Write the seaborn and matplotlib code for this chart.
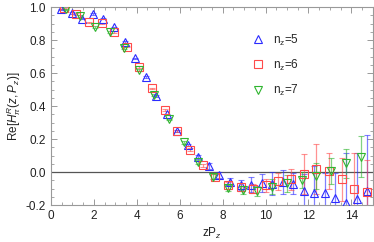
import numpy as np
import pandas as pd
import matplotlib
matplotlib.use("Agg")
import matplotlib.pyplot as plt
import seaborn as sns

# n_z = 5
x5 = [0.49, 0.98, 1.47, 1.96, 2.45, 2.95, 3.44, 3.93, 4.42, 4.91, 5.40, 5.89, 6.38, 6.87, 7.36,
      7.85, 8.35, 8.84, 9.33, 9.82, 10.31, 10.80, 11.29, 11.78, 12.27, 12.76, 13.25, 13.75, 14.24, 14.73]
y5 = [0.986, 0.962, 0.930, 0.956, 0.930, 0.877, 0.790, 0.689, 0.578, 0.462, 0.350, 0.248, 0.164, 0.091, 0.036,
      -0.016, -0.059, -0.075, -0.075, -0.063, -0.070, -0.059, -0.070, -0.113, -0.125, -0.125, -0.156, -0.184, -0.164, -0.113]
e5 = [0.005, 0.005, 0.005, 0.005, 0.005, 0.005, 0.005, 0.005, 0.005, 0.005, 0.005, 0.006, 0.008, 0.012, 0.018,
      0.02, 0.025, 0.03, 0.045, 0.055, 0.07, 0.075, 0.065, 0.10, 0.16, 0.12, 0.15, 0.30, 0.28, 0.34]

# n_z = 6
x6 = [0.59, 1.18, 1.77, 2.36, 2.95, 3.53, 4.12, 4.71, 5.30, 5.89, 6.48, 7.07, 7.66, 8.25, 8.84,
      9.42, 10.01, 10.60, 11.19, 11.78, 12.37, 12.96, 13.55, 14.14, 14.73]
y6 = [0.992, 0.956, 0.907, 0.901, 0.850, 0.760, 0.638, 0.507, 0.376, 0.248, 0.137, 0.042, -0.028, -0.079, -0.089,
      -0.099, -0.079, -0.055, -0.044, -0.012, 0.018, 0.008, -0.044, -0.103, -0.119]
e6 = [0.005, 0.005, 0.005, 0.005, 0.005, 0.005, 0.005, 0.005, 0.005, 0.005, 0.008, 0.01, 0.015, 0.02, 0.025,
      0.03, 0.04, 0.05, 0.066, 0.12, 0.15, 0.11, 0.13, 0.22, 0.19]

# n_z = 7
x7 = [0.69, 1.37, 2.06, 2.75, 3.43, 4.12, 4.81, 5.50, 6.18, 6.87, 7.56, 8.24, 8.93, 9.62, 10.31,
      11.00, 11.68, 12.37, 13.06, 13.74, 14.43]
y7 = [0.986, 0.947, 0.880, 0.847, 0.753, 0.618, 0.467, 0.320, 0.180, 0.062, -0.028, -0.095, -0.109, -0.113, -0.089,
      -0.068, -0.048, -0.024, 0.008, 0.053, 0.093]
e7 = [0.005, 0.005, 0.005, 0.005, 0.005, 0.005, 0.005, 0.005, 0.008, 0.012, 0.015, 0.02, 0.025, 0.03, 0.045,
      0.05, 0.05, 0.08, 0.08, 0.09, 0.125]

labels = ["n$_\\mathregular{z}$=5", "n$_\\mathregular{z}$=6", "n$_\\mathregular{z}$=7"]

df = pd.concat([
    pd.DataFrame({"x": x5, "y": y5, "err": e5, "set": labels[0]}),
    pd.DataFrame({"x": x6, "y": y6, "err": e6, "set": labels[1]}),
    pd.DataFrame({"x": x7, "y": y7, "err": e7, "set": labels[2]}),
])

sns.set_style("ticks")
plt.rcParams["font.family"] = ["Liberation Sans", "DejaVu Sans"]
plt.rcParams["mathtext.fontset"] = "custom"
plt.rcParams["mathtext.rm"] = "Liberation Sans"
plt.rcParams["mathtext.it"] = "Liberation Sans:italic"

colors = {labels[0]: "#2b2bff", labels[1]: "#ff4a4a", labels[2]: "#2fb52f"}
markers = {labels[0]: "^", labels[1]: "s", labels[2]: "v"}

fig = plt.figure(figsize=(3.74, 2.42), dpi=100)
ax = fig.add_axes([0.136, 0.152, 0.861, 0.819])

ax.axhline(0, color="#555555", lw=0.9, zorder=1)

for name, g in df.groupby("set", sort=False):
    c = colors[name]
    ax.errorbar(g["x"], g["y"], yerr=g["err"], fmt="none", ecolor=c, elinewidth=0.9,
                capsize=2.2, capthick=0.8, alpha=0.6, zorder=2)
    ax.plot(g["x"], g["y"], ls="none", marker=markers[name], ms=5.3, mfc="none",
            mec=c, mew=0.8, label=name, zorder=3)

ax.set_xlim(0, 15)
ax.set_ylim(-0.2, 1.0)
ax.set_xticks(np.arange(0, 15, 2))
ax.set_xticks(np.arange(0, 15.01, 0.5), minor=True)
ax.set_yticks(np.arange(-0.2, 1.01, 0.2))
ax.set_yticks(np.arange(-0.2, 1.001, 0.05), minor=True)
ax.yaxis.set_major_formatter(matplotlib.ticker.FormatStrFormatter("%.1f"))

for s in ax.spines.values():
    s.set_color("#999999")
    s.set_linewidth(0.8)
ax.tick_params(which="both", direction="in", top=True, right=True, color="#999999",
               labelsize=8.5, labelcolor="#222222")
ax.tick_params(which="major", length=4, width=0.7)
ax.tick_params(which="minor", length=2, width=0.6)

ax.set_xlabel("zP$_z$", fontsize=8.5, color="#222222", labelpad=3)
ax.set_ylabel(r"Re[$H^R_\pi(z,P_z)$]", fontsize=8.5, color="#222222", labelpad=2)

ax.legend(loc="center left", bbox_to_anchor=(0.61, 0.707), frameon=False, fontsize=8.5,
          handlelength=1.0, handletextpad=0.8, labelspacing=0.85, borderaxespad=0)

fig.savefig("out.png", dpi=100)
